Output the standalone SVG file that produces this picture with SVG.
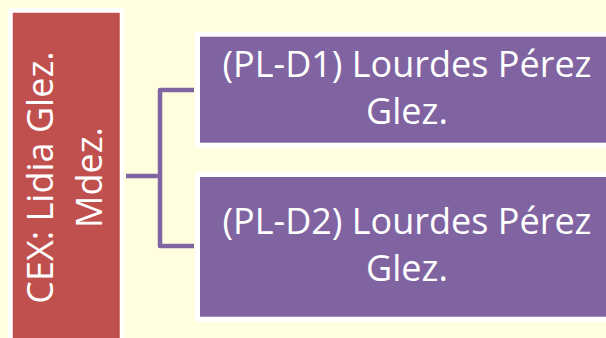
<svg xmlns="http://www.w3.org/2000/svg" width="606" height="338" viewBox="0 0 606 338">
<style>
.bg{fill:#FFFFE0}
.red{fill:#C0504D;stroke:#FFFFFF;stroke-width:4.5}
.pur{fill:#8064A2;stroke:#FFFFFF;stroke-width:5}
.conn{fill:none;stroke:#8064A2;stroke-width:4.5;stroke-linejoin:round}
.t{fill:#FFFFFF;font-family:"Open Sans","Noto Sans","DejaVu Sans",sans-serif;font-size:36px;text-anchor:middle}
</style>
<rect class="bg" x="0" y="0" width="606" height="338"/>
<g id="connectors">
<path class="conn" d="M126,176 H160"/>
<path class="conn" d="M194,90 H160 V246 H194"/>
</g>
<g id="cex">
<rect class="red" x="10.5" y="10.5" width="111.5" height="345"/>
<g transform="translate(0,177.5) rotate(-90)">
<text class="t" x="0" y="53">CEX: Lidia Glez.</text>
<text class="t" x="0" y="102">Mdez.</text>
</g>
</g>
<g id="pld1">
<rect class="pur" x="197.5" y="34.2" width="420" height="111"/>
<text class="t" x="407" y="77">(PL-D1) Lourdes Pérez</text>
<text class="t" x="407" y="124">Glez.</text>
</g>
<g id="pld2">
<rect class="pur" x="197.5" y="174.5" width="420" height="144.7"/>
<text class="t" x="407" y="234">(PL-D2) Lourdes Pérez</text>
<text class="t" x="407" y="281">Glez.</text>
</g>
</svg>
